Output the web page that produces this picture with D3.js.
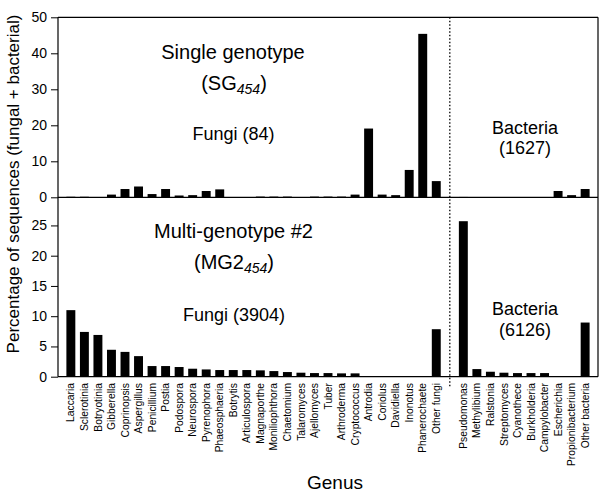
<!DOCTYPE html>
<html><head><meta charset="utf-8">
<script src="https://cdn.jsdelivr.net/npm/d3@7"></script>
<style>body{margin:0;background:#fff}svg{display:block}text{font-family:Arial,"Liberation Sans",Helvetica,sans-serif;fill:#000}</style>
</head><body>
<svg id="c" width="600" height="492"></svg>
<script>
const fungi = ["Laccaria","Sclerotinia","Botryotinia","Gibberella","Coprinopsis","Aspergillus","Penicillium","Postia","Podospora","Neurospora","Pyrenophora","Phaeosphaeria","Botrytis","Articulospora","Magnaporthe","Moniliophthora","Chaetomium","Talaromyces","Ajellomyces","Tuber","Arthroderma","Cryptococcus","Antrodia","Coriolus","Davidiella","Inonotus","Phanerochaete","Other fungi"];
const bacteria = ["Pseudomonas","Methylibium","Ralstonia","Streptomyces","Cyanothece","Burkholderia","Campylobacter","Escherichia","Propionibacterium","Other bacteria"];
const sgFungi = [0.15,0.15,0,0.75,2.3,3.0,0.9,2.3,0.5,0.6,1.75,2.2,0,0,0.2,0.2,0.2,0,0.2,0.2,0.2,0.75,19.1,0.75,0.6,7.6,45.4,4.5];
const sgBacteria = [0.1,0,0,0,0,0,0,1.75,0.6,2.3];
const mgFungi = [11.0,7.4,6.9,4.45,4.1,3.4,1.76,1.76,1.6,1.32,1.2,1.1,1.1,1.1,1.05,0.93,0.77,0.66,0.6,0.6,0.55,0.55,0,0,0,0,0,7.85];
const mgBacteria = [25.7,1.26,0.82,0.66,0.6,0.6,0.6,0,0,8.95];
const topTicks = [0,10,20,30,40,50];
const botTicks = [0,5,10,15,20,25];

const svg = d3.select("#c");
const L = 58, R = 598, T = 17.3, M = 197.3, B = 376.7;
const slots = [...fungi, "__gap__", ...bacteria];
const x = d3.scaleBand().domain(slots).range([L, R]).paddingInner(0.34).paddingOuter(0.62);
const yTop = d3.scaleLinear().domain([0, 50]).range([M, T]);
const yBot = d3.scaleLinear().domain([0, 29.65]).range([B, M]);

function bars(names, vals, y) {
  svg.append("g").selectAll("rect").data(names.map((n,i)=>({n, v: vals[i]}))).join("rect")
    .attr("x", d => x(d.n)).attr("width", x.bandwidth())
    .attr("y", d => y(d.v)).attr("height", d => y(0) - y(d.v))
    .attr("fill", "#000");
}
bars(fungi, sgFungi, yTop); bars(bacteria, sgBacteria, yTop);
bars(fungi, mgFungi, yBot); bars(bacteria, mgBacteria, yBot);

// axes
const axT = svg.append("g").attr("transform", `translate(${L},0)`)
  .call(d3.axisLeft(yTop).tickValues(topTicks).tickSize(7).tickPadding(4));
const axB = svg.append("g").attr("transform", `translate(${L},0)`)
  .call(d3.axisLeft(yBot).tickValues(botTicks).tickSize(7).tickPadding(4));
[axT, axB].forEach(a => { a.select(".domain").remove(); a.selectAll("text").style("font-size","14px").style("font-family","Arial, 'Liberation Sans', sans-serif"); a.selectAll("line").attr("stroke","#000"); });

// frame lines
const line = (x1,y1,x2,y2) => svg.append("line").attr("x1",x1).attr("y1",y1).attr("x2",x2).attr("y2",y2).attr("stroke","#000").attr("stroke-width",1.2);
line(L, T, R, T); line(R, T, R, B); line(L, M, R, M); line(L, B, R, B); line(L, T, L, B);

// dotted divider
const gx = x("__gap__") + x.bandwidth()/2;
svg.append("line").attr("x1", gx).attr("x2", gx).attr("y1", T).attr("y2", 388)
  .attr("stroke", "#000").attr("stroke-width", 1.3).attr("stroke-dasharray", "1.5,2");

// x labels
svg.append("g").selectAll("text").data(slots.filter(s => s !== "__gap__")).join("text")
  .attr("transform", d => `translate(${x(d) + x.bandwidth()/2},383) rotate(-90)`)
  .attr("text-anchor", "end").attr("dy", "0.35em").style("font-size", "10.3px").text(d => d);

// titles
function txt(t, cx, cy, size) { return svg.append("text").attr("x", cx).attr("y", cy).attr("text-anchor","middle").style("font-size", size+"px").text(t); }
txt("Single genotype", 233, 59, 20);
const sg = svg.append("text").attr("x", 234).attr("y", 89.5).attr("text-anchor","middle").style("font-size","20px");
sg.append("tspan").text("(SG");
sg.append("tspan").attr("dy", 4).style("font-size","14px").style("font-style","italic").text("454");
sg.append("tspan").attr("dy", -4).text(")");
txt("Fungi (84)", 233.5, 140, 18);
txt("Bacteria", 525, 133.5, 18);
txt("(1627)", 525, 153.5, 18);
txt("Multi-genotype #2", 233.5, 237.5, 20);
const mg = svg.append("text").attr("x", 234).attr("y", 268.5).attr("text-anchor","middle").style("font-size","20px");
mg.append("tspan").text("(MG2");
mg.append("tspan").attr("dy", 4).style("font-size","14px").style("font-style","italic").text("454");
mg.append("tspan").attr("dy", -4).text(")");
txt("Fungi (3904)", 234, 321, 18);
txt("Bacteria", 525, 315, 18);
txt("(6126)", 525, 335.5, 18);

svg.append("text").attr("transform", "translate(19,184) rotate(-90)").attr("text-anchor","middle")
  .style("font-size","17px").text("Percentage of sequences (fungal + bacterial)");
txt("Genus", 335, 489, 19);
</script>
</body></html>
